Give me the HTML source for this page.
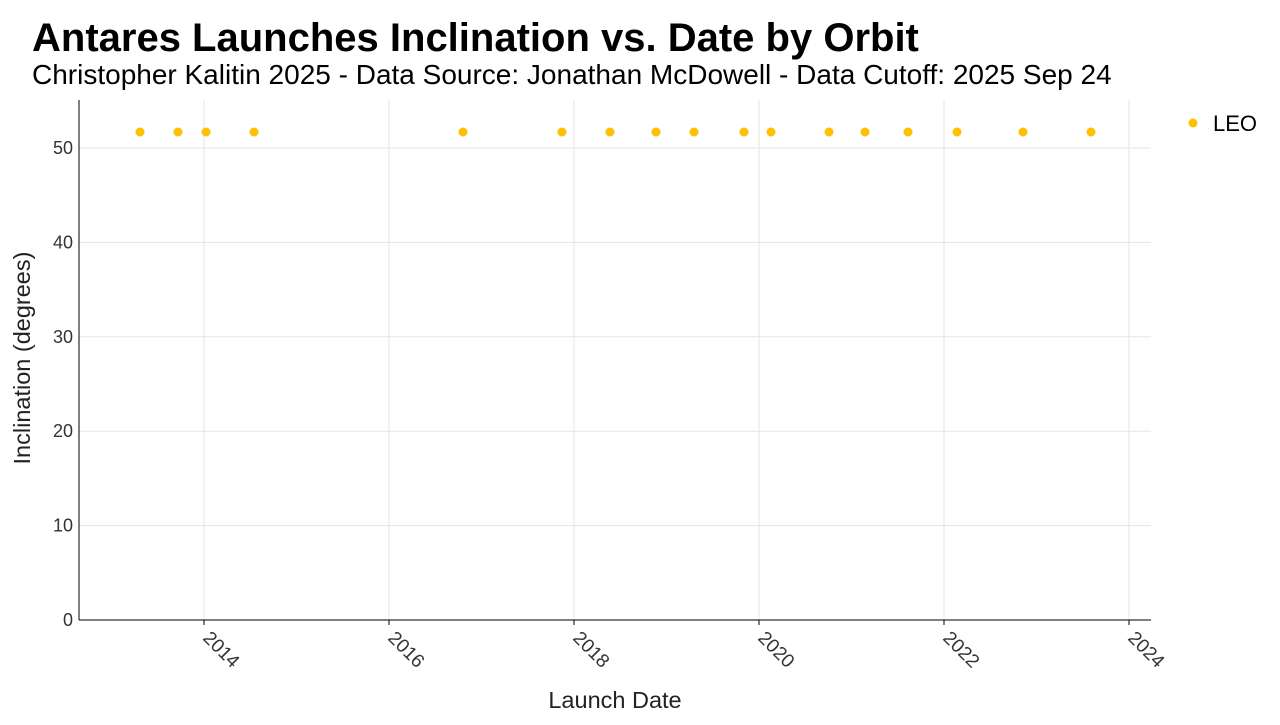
<!DOCTYPE html>
<html><head><meta charset="utf-8"><style>
body{margin:0;background:#fff;width:1280px;height:720px;overflow:hidden;font-family:"Liberation Sans",Arial,sans-serif}
</style></head><body>
<svg width="1280" height="720" xmlns="http://www.w3.org/2000/svg" font-family="Liberation Sans, Arial, sans-serif">
<text x="32" y="51" font-size="40" font-weight="bold" fill="#000">Antares Launches Inclination vs. Date by Orbit</text>
<text x="32" y="84" font-size="28" fill="#000">Christopher Kalitin 2025 - Data Source: Jonathan McDowell - Data Cutoff: 2025 Sep 24</text>
<g stroke="#e5e5e5" stroke-width="1">
<line x1="79" x2="1151" y1="525.6" y2="525.6"/><line x1="79" x2="1151" y1="431.2" y2="431.2"/>
<line x1="79" x2="1151" y1="336.8" y2="336.8"/><line x1="79" x2="1151" y1="242.4" y2="242.4"/>
<line x1="79" x2="1151" y1="148" y2="148"/>
<line x1="204" x2="204" y1="100" y2="620"/><line x1="389" x2="389" y1="100" y2="620"/>
<line x1="574" x2="574" y1="100" y2="620"/><line x1="759" x2="759" y1="100" y2="620"/>
<line x1="944" x2="944" y1="100" y2="620"/><line x1="1129" x2="1129" y1="100" y2="620"/>
</g>
<line x1="79" x2="79" y1="100" y2="620" stroke="#000"/>
<line x1="79" x2="1151" y1="620" y2="620" stroke="#000"/>
<g stroke="#000"><line x1="204" x2="204" y1="620" y2="625"/><line x1="389" x2="389" y1="620" y2="625"/><line x1="574" x2="574" y1="620" y2="625"/><line x1="759" x2="759" y1="620" y2="625"/><line x1="944" x2="944" y1="620" y2="625"/><line x1="1129" x2="1129" y1="620" y2="625"/></g>
<g font-size="18" fill="#333" text-anchor="end">
<text x="73" y="626">0</text><text x="73" y="531.6">10</text><text x="73" y="437.2">20</text>
<text x="73" y="342.8">30</text><text x="73" y="248.4">40</text><text x="73" y="154">50</text>
</g>
<g font-size="19" fill="#333">
<text transform="translate(202,639) rotate(45)">2014</text>
<text transform="translate(387,639) rotate(45)">2016</text>
<text transform="translate(572,639) rotate(45)">2018</text>
<text transform="translate(757,639) rotate(45)">2020</text>
<text transform="translate(942,639) rotate(45)">2022</text>
<text transform="translate(1127,639) rotate(45)">2024</text>
</g>
<text x="615" y="708" font-size="23.5" text-anchor="middle" fill="#222">Launch Date</text>
<text transform="translate(30,358) rotate(-90)" font-size="23.5" text-anchor="middle" fill="#222">Inclination (degrees)</text>
<g fill="#FFC000">
<circle cx="140" cy="132" r="4.5"/><circle cx="178" cy="132" r="4.5"/><circle cx="206" cy="132" r="4.5"/>
<circle cx="254" cy="132" r="4.5"/><circle cx="463" cy="132" r="4.5"/><circle cx="562" cy="132" r="4.5"/>
<circle cx="610" cy="132" r="4.5"/><circle cx="656" cy="132" r="4.5"/><circle cx="694" cy="132" r="4.5"/>
<circle cx="744" cy="132" r="4.5"/><circle cx="771" cy="132" r="4.5"/><circle cx="829" cy="132" r="4.5"/>
<circle cx="865" cy="132" r="4.5"/><circle cx="908" cy="132" r="4.5"/><circle cx="957" cy="132" r="4.5"/>
<circle cx="1023" cy="132" r="4.5"/><circle cx="1091" cy="132" r="4.5"/>
<circle cx="1193" cy="123" r="4.5"/>
</g>
<text x="1213" y="131" font-size="22" fill="#000">LEO</text>
</svg>
</body></html>
